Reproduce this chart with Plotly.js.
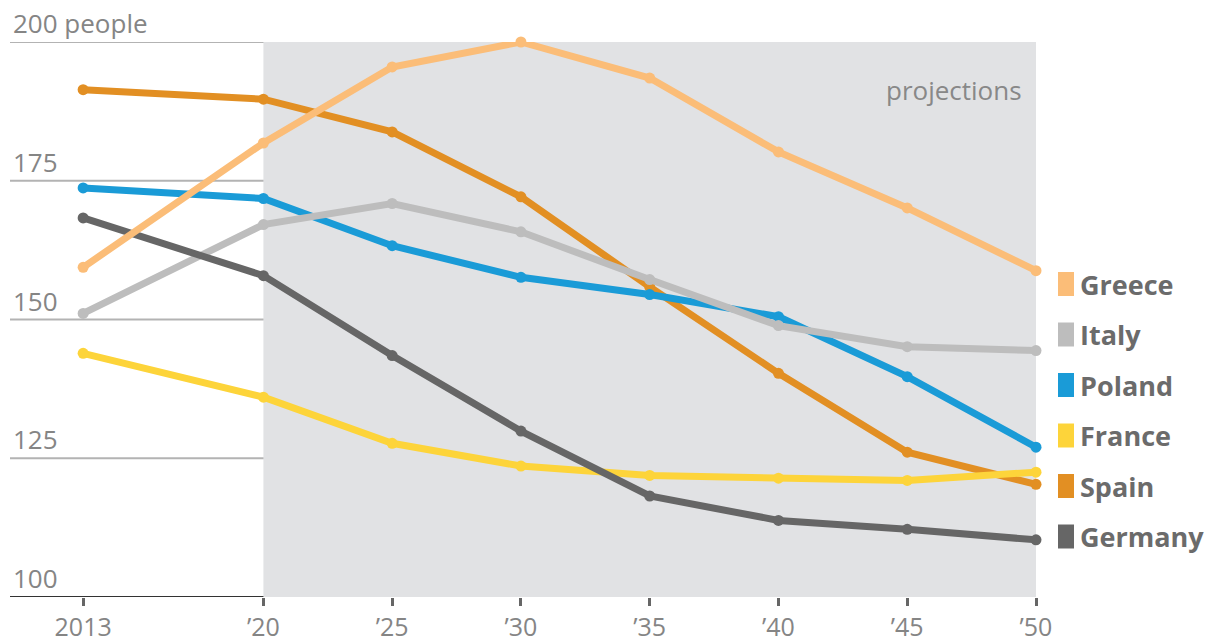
<!DOCTYPE html>
<html><head><meta charset="utf-8">
<script src="https://cdn.plot.ly/plotly-3.0.1.min.js"></script>
<style>html,body{margin:0;padding:0;background:#fff}#c{width:1217px;height:642px}</style>
</head><body><div id="c"></div>
<script>
const years = [2013, 2020, 2025, 2030, 2035, 2040, 2045, 2050];
const xTickLabels = ['2013', '\u201920', '\u201925', '\u201930', '\u201935', '\u201940', '\u201945', '\u201950'];
const yTickVals = [100, 125, 150, 175, 200];
const yTickLabels = ['100', '125', '150', '175', '200 people'];
const countries = ['Greece', 'Italy', 'Poland', 'France', 'Spain', 'Germany'];
const colors = ['#fbbd78', '#bdbdbd', '#1a9bd7', '#fdd43a', '#e28f23', '#666666'];
const greece  = [159.4, 181.8, 195.5, 200.0, 193.5, 180.2, 170.1, 158.8];
const italy   = [151.1, 167.1, 170.9, 165.8, 157.2, 148.9, 145.1, 144.4];
const poland  = [173.7, 171.8, 163.3, 157.6, 154.5, 150.5, 139.7, 127.0];
const france  = [143.9, 136.0, 127.7, 123.6, 121.9, 121.4, 121.0, 122.5];
const spain   = [191.4, 189.7, 183.8, 172.1, 155.9, 140.3, 126.1, 120.3];
const germany = [168.3, 157.9, 143.5, 129.9, 118.2, 113.8, 112.2, 110.3];
const series = [greece, italy, poland, france, spain, germany];
const projStart = 2020, projEnd = 2050;

// draw order: back to front (Spain, Poland, Italy, France, Germany, Greece)
const order = [4, 2, 1, 3, 5, 0];
const traces = order.map(i => ({
  x: years, y: series[i], type: 'scatter', mode: 'lines+markers',
  name: countries[i], line: {color: colors[i], width: 7},
  marker: {color: colors[i], size: 11}, cliponaxis: false, hoverinfo: 'skip'
}));

const shapes = [
  {type: 'rect', xref: 'x', yref: 'y', x0: projStart, x1: projEnd, y0: 100, y1: 200,
   fillcolor: '#e1e2e4', line: {width: 0}, layer: 'below'}
];
yTickVals.forEach(v => {
  shapes.push({type: 'line', xref: 'paper', yref: 'y', x0: 0, x1: 1, y0: v, y1: v,
    line: {color: v === 100 ? '#333333' : '#b3b3b3', width: 2}, layer: 'below'});
});
const annotations = [];
yTickVals.forEach((v, i) => {
  annotations.push({xref: 'paper', yref: 'y', x: 0, y: v, xanchor: 'left', yanchor: 'bottom',
    xshift: 1, yshift: -1, text: yTickLabels[i], showarrow: false,
    font: {family: 'Open Sans', size: 26, color: '#858585'}});
});
annotations.push({xref: 'x', yref: 'y', x: projEnd, y: 191.4, xanchor: 'right', yanchor: 'middle',
  xshift: -12, text: 'projections', showarrow: false,
  font: {family: 'Open Sans', size: 26, color: '#888888'}});

const legTop = 284, legStep = 50.5;
countries.forEach((c, i) => {
  const yc = legTop + i * legStep;
  const yp = (642 - 45 - yc) / (642 - 42 - 45);
  shapes.push({type: 'rect', xref: 'paper', yref: 'paper', xsizemode: 'pixel', ysizemode: 'pixel',
    xanchor: 1, yanchor: yp, x0: 22, x1: 38, y0: -12, y1: 12, fillcolor: colors[i], line: {width: 0}});
  annotations.push({xref: 'paper', yref: 'paper', x: 1, y: yp,
    xanchor: 'left', yanchor: 'middle', xshift: 42, text: '<b>' + c + '</b>', showarrow: false,
    font: {family: 'Open Sans', size: 27, color: '#6b6b6b'}});
});

const layout = {
  width: 1217, height: 642, margin: {l: 10, r: 181, t: 42, b: 45},
  paper_bgcolor: '#ffffff', plot_bgcolor: 'rgba(0,0,0,0)', showlegend: false,
  xaxis: {range: [2010.16, 2050], tickvals: years, ticktext: xTickLabels, showgrid: false,
    zeroline: false, showline: false, ticks: 'outside', ticklen: 8, tickwidth: 3, tickcolor: '#666666',
    tickfont: {family: 'Open Sans', size: 25, color: '#858585'}, fixedrange: true},
  yaxis: {range: [100, 200], showgrid: false, zeroline: false, showticklabels: false, ticks: '', fixedrange: true},
  shapes: shapes, annotations: annotations
};
Plotly.newPlot('c', traces, layout, {staticPlot: true});
</script></body></html>
